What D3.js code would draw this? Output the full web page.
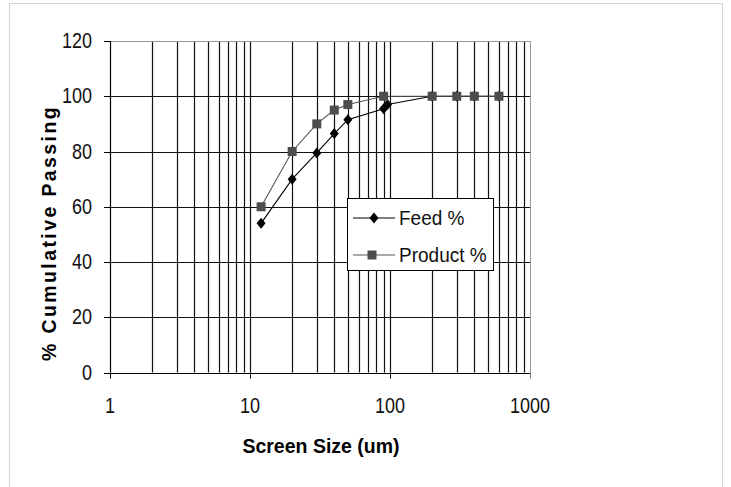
<!DOCTYPE html>
<html>
<head>
<meta charset="utf-8">
<script src="https://cdn.jsdelivr.net/npm/d3@7"></script>
<style>
  body { margin: 0; background: #fff; }
  svg text { font-family: Arial, "Liberation Sans", sans-serif; }
</style>
</head>
<body>
<svg width="731" height="487"></svg>
<script>
// screen sizes (um) and cumulative passing (%)
const feedSizes = [12, 20, 30, 40, 50, 90, 96, 200, 300, 400, 600];
const feedPct = [54, 70, 79.5, 86.5, 91.5, 95.5, 97, 100, 100, 100, 100];
const productSizes = [12, 20, 30, 40, 50, 90, 200, 300, 400, 600];
const productPct = [60, 80, 90, 95, 97, 100, 100, 100, 100, 100];
const xTicks = [1, 10, 100, 1000];
const yTicks = [0, 20, 40, 60, 80, 100, 120];
const seriesNames = ['Feed %', 'Product %'];

const svg = d3.select('svg');

// outer chart frame
svg.append('rect')
  .attr('x', 9.5).attr('y', 3.5)
  .attr('width', 713).attr('height', 495)
  .attr('fill', 'none').attr('stroke', '#d4d4d4');

const x = d3.scaleLog().domain([1, 1000]).range([110, 530]);
const y = d3.scaleLinear().domain([0, 120]).range([372.5, 41]);

// vertical gridlines 2..9 in each decade + decades
let vLines = [];
for (let dec = 1; dec < 1000; dec *= 10) {
  for (let k = 1; k <= 9; k++) if (!(dec === 1 && k === 1)) vLines.push(dec * k);
}
const grid = svg.append('g');
grid.selectAll('line.v')
  .data(vLines)
  .enter().append('line')
  .attr('class', 'v')
  .attr('x1', d => Math.round(x(d)) + 0.5)
  .attr('x2', d => Math.round(x(d)) + 0.5)
  .attr('y1', y(120)).attr('y2', y(0))
  .attr('stroke', '#111').attr('stroke-width', 1.2);

grid.selectAll('line.h')
  .data(yTicks.filter(d => d > 0 && d < 120))
  .enter().append('line')
  .attr('class', 'h')
  .attr('x1', x(1)).attr('x2', x(1000))
  .attr('y1', d => Math.round(y(d)) + 0.5)
  .attr('y2', d => Math.round(y(d)) + 0.5)
  .attr('stroke', '#111').attr('stroke-width', 1.2);

// plot border top/right (grey)
svg.append('path')
  .attr('d', `M${x(1)},${Math.round(y(120)) + 0.5}H${Math.round(x(1000)) + 0.5}V${y(0)}`)
  .attr('fill', 'none').attr('stroke', '#999');

// axes
svg.append('line')
  .attr('x1', x(1) + 0.5).attr('x2', x(1) + 0.5)
  .attr('y1', y(120)).attr('y2', y(0))
  .attr('stroke', '#000').attr('stroke-width', 1.2);
svg.append('line')
  .attr('x1', x(1)).attr('x2', x(1000) + 1)
  .attr('y1', Math.round(y(0)) + 0.5).attr('y2', Math.round(y(0)) + 0.5)
  .attr('stroke', '#000').attr('stroke-width', 1.2);

// tick marks
svg.selectAll('line.yt')
  .data(yTicks)
  .enter().append('line')
  .attr('x1', x(1) - 6).attr('x2', x(1))
  .attr('y1', d => Math.round(y(d)) + 0.5)
  .attr('y2', d => Math.round(y(d)) + 0.5)
  .attr('stroke', '#000');
svg.selectAll('line.xt')
  .data(xTicks)
  .enter().append('line')
  .attr('x1', d => Math.round(x(d)) + 0.5)
  .attr('x2', d => Math.round(x(d)) + 0.5)
  .attr('y1', y(0)).attr('y2', y(0) + 6)
  .attr('stroke', d => d === 1000 ? '#777' : '#000');

// tick labels (slightly tall glyphs like the original)
svg.selectAll('text.yl')
  .data(yTicks)
  .enter().append('text')
  .attr('transform', d => `translate(92,${y(d) + 7}) scale(1,1.22)`)
  .attr('text-anchor', 'end')
  .attr('font-size', 18)
  .attr('fill', '#111')
  .text(d => d);
svg.selectAll('text.xl')
  .data(xTicks)
  .enter().append('text')
  .attr('transform', d => `translate(${x(d)},${y(0) + 40}) scale(1,1.22)`)
  .attr('text-anchor', 'middle')
  .attr('font-size', 18)
  .attr('fill', '#111')
  .text(d => d);

// axis titles
svg.append('text')
  .attr('x', 321).attr('y', 453)
  .attr('text-anchor', 'middle')
  .attr('font-size', 19.5).attr('font-weight', 'bold')
  .text('Screen Size (um)');
svg.append('text')
  .attr('transform', 'translate(56,233) rotate(-90)')
  .attr('text-anchor', 'middle')
  .attr('font-size', 19.5).attr('font-weight', 'bold')
  .attr('letter-spacing', 2.4)
  .text('% Cumulative Passing');

// series
const line = d3.line().x(d => x(d[0])).y(d => y(d[1]));
const feed = feedSizes.map((s, i) => [s, feedPct[i]]);
const product = productSizes.map((s, i) => [s, productPct[i]]);

const diamond = 'M0,-5.5L4.5,0L0,5.5L-4.5,0Z';

svg.append('path').datum(feed)
  .attr('d', line).attr('fill', 'none')
  .attr('stroke', '#000').attr('stroke-width', 1.1);
svg.selectAll('path.fd')
  .data(feed)
  .enter().append('path')
  .attr('d', diamond)
  .attr('transform', d => `translate(${x(d[0])},${y(d[1])})`)
  .attr('fill', '#000');

svg.append('path').datum(product)
  .attr('d', line).attr('fill', 'none')
  .attr('stroke', '#555').attr('stroke-width', 1.1);
svg.selectAll('rect.pd')
  .data(product)
  .enter().append('rect')
  .attr('x', d => x(d[0]) - 4.5).attr('y', d => y(d[1]) - 4.5)
  .attr('width', 9).attr('height', 9)
  .attr('fill', '#4d4d4d');

// legend
const lg = svg.append('g');
lg.append('rect')
  .attr('x', 347.5).attr('y', 198.5)
  .attr('width', 146).attr('height', 72)
  .attr('fill', '#fff').attr('stroke', '#000');
const rows = [218, 255];
rows.forEach((ry, i) => {
  lg.append('line')
    .attr('x1', 353).attr('x2', 395)
    .attr('y1', ry).attr('y2', ry)
    .attr('stroke', i === 0 ? '#000' : '#555');
  if (i === 0) {
    lg.append('path').attr('d', diamond)
      .attr('transform', `translate(374,${ry})`).attr('fill', '#000');
  } else {
    lg.append('rect').attr('x', 367.5).attr('y', ry - 4.5)
      .attr('width', 9).attr('height', 9).attr('fill', '#4d4d4d');
  }
  lg.append('text')
    .attr('transform', `translate(399,${ry + 7}) scale(1,1.1)`)
    .attr('font-size', 19)
    .attr('fill', '#111')
    .text(seriesNames[i]);
});
</script>
</body>
</html>
